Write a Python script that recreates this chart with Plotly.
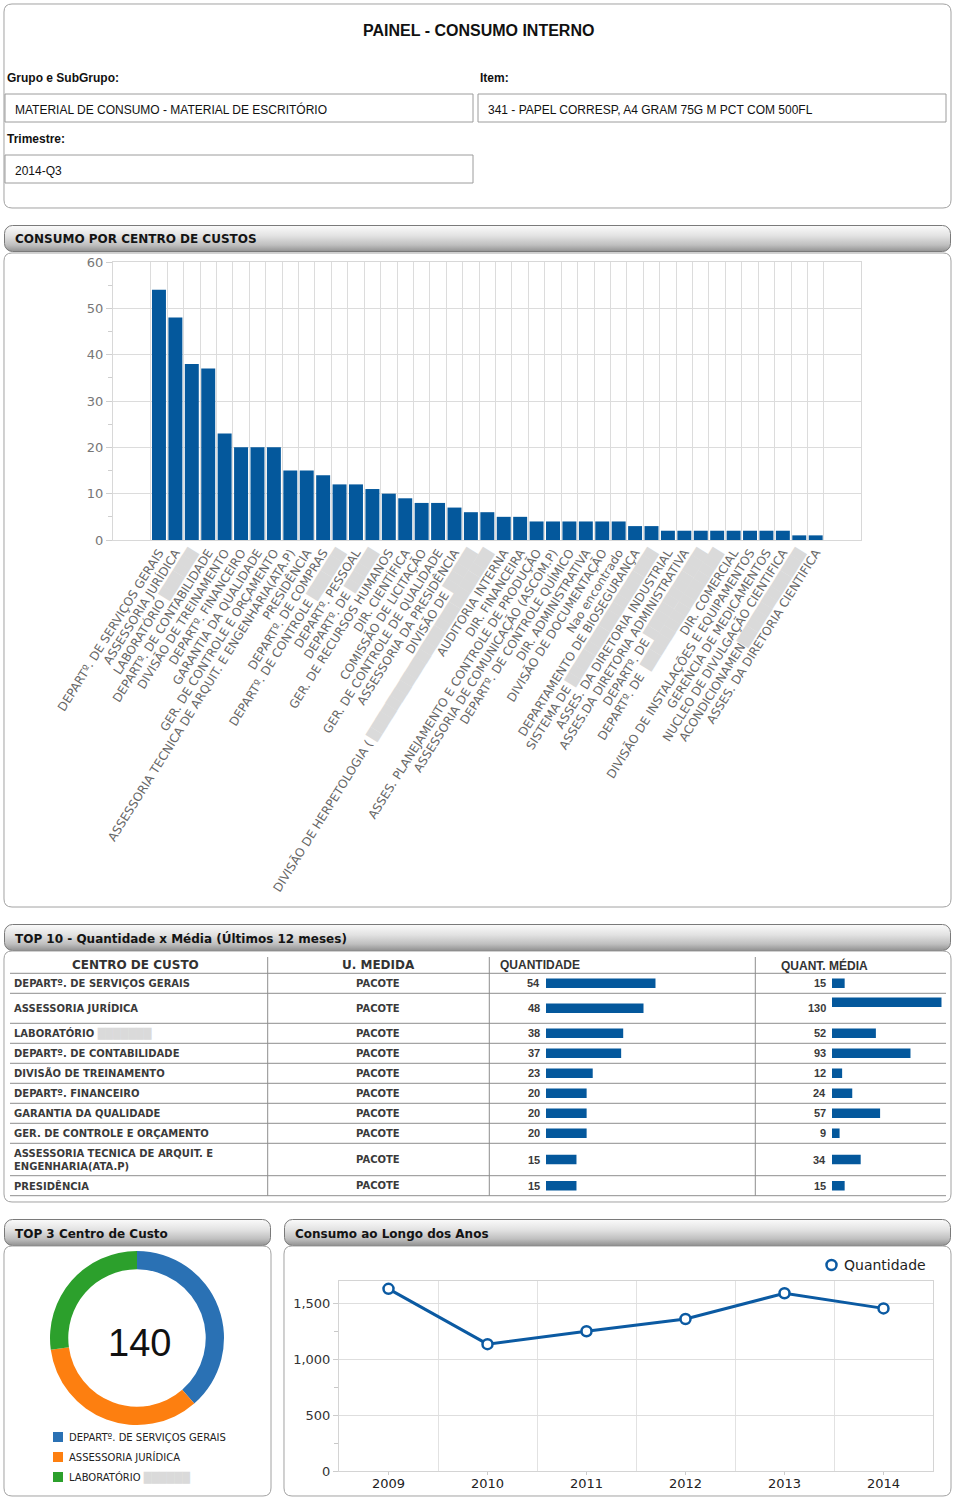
import base64
import plotly.graph_objects as go

# ---------------- DATA ----------------
def blur(n, color="#dadada"):
    return '<span style="color:%s">%s</span>' % (color, "█" * n)

centros = [
    "DEPARTº. DE SERVIÇOS GERAIS",
    "ASSESSORIA JURÍDICA",
    "LABORATÓRIO " + blur(6),
    "DEPARTº. DE CONTABILIDADE",
    "DIVISÃO DE TREINAMENTO",
    "DEPARTº. FINANCEIRO",
    "GARANTIA DA QUALIDADE",
    "GER. DE CONTROLE E ORÇAMENTO",
    "ASSESSORIA TECNICA DE ARQUIT. E ENGENHARIA(ATA.P)",
    "PRESIDÊNCIA",
    "DEPARTº. DE COMPRAS",
    "DEPARTº. DE CONTROLE " + blur(6),
    "DEPARTº. PESSOAL",
    "DEPARTº. DE " + blur(5),
    "GER. DE RECURSOS HUMANOS",
    "DIR. CIENTÍFICA",
    "COMISSÃO DE LICITAÇÃO",
    "GER. DE CONTROLE DE QUALIDADE",
    "ASSESSORIA DA PRESIDÊNCIA",
    "DIVISÃO DE " + blur(5),
    "DIVISÃO DE HERPETOLOGIA ( " + blur(24),
    "AUDITORIA INTERNA",
    "DIR. FINANCEIRA",
    "ASSES. PLANEJAMENTO E CONTROLE DE PRODUÇÃO",
    "ASSESSORIA DE COMUNICAÇÃO (ASCOM.P)",
    "DEPARTº. DE CONTROLE QUÍMICO",
    "DIR. ADMINISTRATIVA",
    "DIVISÃO DE DOCUMENTAÇÃO",
    "Nao encontrado",
    "DEPARTAMENTO DE BIOSEGURANÇA",
    "SISTEMA DE " + blur(17),
    "ASSES. DA DIRETORIA INDUSTRIAL",
    "ASSES.DA DIRETORIA ADMINISTRATIVA",
    "DEPARTº. DE " + blur(11),
    "DEPARTº. DE  " + blur(15),
    "DIR. COMERCIAL",
    "DIVISÃO DE INSTALAÇÕES E EQUIPAMENTOS",
    "GERENCIA DE MEDICAMENTOS",
    "NUCLEO DE DIVULGAÇÃO CIENTIFICA",
    "ACONDICIONAMEN" + blur(12),
    "ASSES. DA DIRETORIA CIENTIFICA",
]
consumo = [54, 48, 38, 37, 23, 20, 20, 20, 15, 15,
           14, 12, 12, 11, 10, 9, 8, 8, 7, 6,
           6, 5, 5, 4, 4, 4, 4, 4, 4, 3,
           3, 2, 2, 2, 2, 2, 2, 2, 2, 1, 1]

top10_nomes = [
    "DEPARTº. DE SERVIÇOS GERAIS",
    "ASSESSORIA JURÍDICA",
    "LABORATÓRIO " + blur(7),
    "DEPARTº. DE CONTABILIDADE",
    "DIVISÃO DE TREINAMENTO",
    "DEPARTº. FINANCEIRO",
    "GARANTIA DA QUALIDADE",
    "GER. DE CONTROLE E ORÇAMENTO",
    "ASSESSORIA TECNICA DE ARQUIT. E<br>ENGENHARIA(ATA.P)",
    "PRESIDÊNCIA",
]
top10_unidade = ["PACOTE"] * 10
top10_quant = [54, 48, 38, 37, 23, 20, 20, 20, 15, 15]
top10_media = [15, 130, 52, 93, 12, 24, 57, 9, 34, 15]

top3_nomes = ["DEPARTº. DE SERVIÇOS GERAIS", "ASSESSORIA JURÍDICA", "LABORATÓRIO " + blur(6)]
top3_valores = [54, 48, 38]
top3_cores = ["#2a71b4", "#fd7f10", "#2ca02c"]

anos = [2009, 2010, 2011, 2012, 2013, 2014]
consumo_anual = [1630, 1135, 1250, 1360, 1590, 1455]

# ---------------- LAYOUT HELPERS ----------------
W, H = 956, 1502
BLUE = "#04589c"
PAD = 2  # annotation inner padding compensation


def X(px):
    return px / W


def Y(py):
    return 1 - py / H


def rrect_path(x0, y0, x1, y1, r):
    pts = [
        ("M", [(x0 + r, y0)]), ("L", [(x1 - r, y0)]), ("Q", [(x1, y0), (x1, y0 + r)]),
        ("L", [(x1, y1 - r)]), ("Q", [(x1, y1), (x1 - r, y1)]), ("L", [(x0 + r, y1)]),
        ("Q", [(x0, y1), (x0, y1 - r)]), ("L", [(x0, y0 + r)]), ("Q", [(x0, y0), (x0 + r, y0)]),
    ]
    s = ""
    for cmd, ps in pts:
        s += cmd + " " + " ".join("%.6f,%.6f" % (X(a), Y(b)) for a, b in ps) + " "
    return s + "Z"


shapes = []
annotations = []
images = []


def panel(x0, y0, x1, y1, r=8, line="#a2a2a2"):
    shapes.append(dict(type="path", path=rrect_path(x0, y0, x1, y1, r), xref="paper", yref="paper",
                       fillcolor="white", line=dict(color=line, width=1), layer="below"))


def text_at(px, py, text, size=12, family="Liberation Sans", bold=False, color="#222",
            xanchor="left", align="left"):
    if xanchor == "left":
        px -= PAD
    elif xanchor == "right":
        px += PAD
    annotations.append(dict(x=X(px), y=Y(py), xref="paper", yref="paper", text=text, showarrow=False,
                            xanchor=xanchor, yanchor="middle", align=align,
                            font=dict(size=size, family=family, color=color,
                                      weight="bold" if bold else "normal")))


def header(x0, y0, x1, y1, text):
    w, h = x1 - x0, y1 - y0
    svg = ('<svg xmlns="http://www.w3.org/2000/svg" width="%d" height="%d" viewBox="0 0 %d %d" '
           'preserveAspectRatio="none"><defs><linearGradient id="g" x1="0" y1="0" x2="0" y2="1">'
           '<stop offset="0" stop-color="#fbfbfb"/><stop offset="0.4" stop-color="#e2e2e2"/>'
           '<stop offset="0.75" stop-color="#bfbfbf"/><stop offset="1" stop-color="#929292"/>'
           '</linearGradient></defs><rect x="0.5" y="0.5" width="%.1f" height="%.1f" rx="8" ry="8" '
           'fill="url(#g)" stroke="#7a7a7a" stroke-width="1"/></svg>') % (w, h, w, h, w - 1, h - 1)
    src = "data:image/svg+xml;base64," + base64.b64encode(svg.encode()).decode()
    images.append(dict(source=src, xref="paper", yref="paper", x=X(x0), y=Y(y0), sizex=w / W, sizey=h / H,
                       xanchor="left", yanchor="top", sizing="stretch", layer="below"))
    text_at(x0 + 11, (y0 + y1) / 2 + 1, text, size=12, family="DejaVu Sans", bold=True, color="#141414")


def hline(x0, x1, py, color="#8e8e8e"):
    shapes.append(dict(type="line", xref="paper", yref="paper", x0=X(x0), x1=X(x1), y0=Y(py), y1=Y(py),
                       line=dict(color=color, width=1)))


def vline(px, y0, y1, color="#8e8e8e"):
    shapes.append(dict(type="line", xref="paper", yref="paper", x0=X(px), x1=X(px), y0=Y(y0), y1=Y(y1),
                       line=dict(color=color, width=1)))


def box(x0, y0, x1, y1):
    shapes.append(dict(type="rect", xref="paper", yref="paper", x0=X(x0), x1=X(x1), y0=Y(y1), y1=Y(y0),
                       fillcolor="white", line=dict(color="#9c9c9c", width=1)))


# ---------------- TOP PANEL ----------------
panel(4, 4, 951, 208)
text_at(478, 30, "PAINEL - CONSUMO INTERNO", size=16, bold=True, color="#111", xanchor="center")
text_at(7, 78, "Grupo e SubGrupo:", size=12, bold=True, color="#111")
text_at(480, 78, "Item:", size=12, bold=True, color="#111")
text_at(7, 139, "Trimestre:", size=12, bold=True, color="#111")
box(5, 94, 473, 122)
box(478, 94, 946, 122)
box(5, 155, 473, 183)
text_at(15, 110, "MATERIAL DE CONSUMO - MATERIAL DE ESCRITÓRIO", size=12, color="#111")
text_at(488, 110, "341 - PAPEL CORRESP, A4 GRAM 75G M PCT COM 500FL", size=12, color="#111")
text_at(15, 171, "2014-Q3", size=12, color="#111")

# ---------------- SECTION PANELS ----------------
panel(4, 253, 951, 907)
header(4, 225, 951, 252, "CONSUMO POR CENTRO DE CUSTOS")
panel(4, 951, 951, 1202)
header(4, 924, 951, 951, "TOP 10 - Quantidade x Média (Últimos 12 meses)")
panel(4, 1246, 271, 1496)
header(4, 1219, 271, 1246, "TOP 3 Centro de Custo")
panel(284, 1246, 951, 1496)
header(284, 1219, 951, 1246, "Consumo ao Longo dos Anos")

fig = go.Figure()

# ---------------- BAR CHART ----------------
fig.add_trace(go.Bar(x=centros, y=consumo, marker=dict(color=BLUE, line=dict(width=0)),
                     xaxis="x", yaxis="y", showlegend=False, hoverinfo="x+y"))

# ---------------- TOP 10 TABLE ----------------
row_heights = [20, 30, 20, 20, 20, 20, 20, 20, 32.4, 20]
table_top = 973.3
bounds = [table_top]
for hgt in row_heights:
    bounds.append(bounds[-1] + hgt)
centers = [(bounds[i] + bounds[i + 1]) / 2 for i in range(len(row_heights))]
media_shift = [0, -6, 0, 0, 0, 0, 0, 0, 0, 0]

col_lines = [267.7, 489.3, 755.3]
for b in bounds:
    hline(10, 946, b)
for c in col_lines:
    vline(c, 957, bounds[-1])

text_at(135, 965, "CENTRO DE CUSTO", size=12, family="DejaVu Sans", bold=True, color="#333", xanchor="center")
text_at(378, 965, "U. MEDIDA", size=12, family="DejaVu Sans", bold=True, color="#333", xanchor="center")
text_at(500, 965, "QUANTIDADE", size=12, bold=True, color="#333")
text_at(781, 965, "QUANT. MÉDIA", size=12, bold=True, color="#333")

for i in range(len(top10_nomes)):
    cy = centers[i]
    text_at(14, cy, top10_nomes[i], size=10, family="DejaVu Sans", bold=True, color="#3a3a3a")
    text_at(378, cy, top10_unidade[i], size=10, family="DejaVu Sans", bold=True, color="#3a3a3a",
            xanchor="center")
    text_at(540, cy, str(top10_quant[i]), size=11, bold=True, color="#3a3a3a", xanchor="right")
    text_at(826, cy, str(top10_media[i]), size=11, bold=True, color="#3a3a3a", xanchor="right")

fig.add_trace(go.Bar(x=top10_quant, y=centers, orientation="h", width=9.6,
                     marker=dict(color=BLUE, line=dict(width=0)), xaxis="x2", yaxis="y2",
                     showlegend=False, hoverinfo="x"))
fig.add_trace(go.Bar(x=top10_media, y=[c + s for c, s in zip(centers, media_shift)], orientation="h",
                     width=9.6, marker=dict(color=BLUE, line=dict(width=0)), xaxis="x3", yaxis="y2",
                     showlegend=False, hoverinfo="x"))

# ---------------- TOP 3 DONUT ----------------
fig.add_trace(go.Pie(values=top3_valores, labels=top3_nomes, hole=0.79, sort=False, direction="clockwise",
                     rotation=0, textinfo="none", marker=dict(colors=top3_cores, line=dict(width=0)),
                     domain=dict(x=[X(50), X(224)], y=[Y(1425), Y(1251)]), showlegend=False,
                     hoverinfo="label+value"))
text_at(139, 1343, str(sum(top3_valores)), size=38, color="#111", xanchor="center")
for i, (nome, cor) in enumerate(zip(top3_nomes, top3_cores)):
    cy = 1437 + 20 * i
    shapes.append(dict(type="rect", xref="paper", yref="paper", x0=X(53), x1=X(63), y0=Y(cy + 5),
                       y1=Y(cy - 5), fillcolor=cor, line=dict(width=0)))
    text_at(69, cy, nome, size=10, family="DejaVu Sans", color="#222")

# ---------------- LINE CHART ----------------
fig.add_trace(go.Scatter(x=anos, y=consumo_anual, mode="lines+markers", xaxis="x4", yaxis="y4",
                         line=dict(color="#0b5aa2", width=3),
                         marker=dict(symbol="circle", size=10, color="white",
                                     line=dict(color="#0b5aa2", width=2.5)),
                         showlegend=False, name="Quantidade"))
shapes.append(dict(type="circle", xref="paper", yref="paper", x0=X(826.5), x1=X(836.5), y0=Y(1270),
                   y1=Y(1260), fillcolor="white", line=dict(color="#0b5aa2", width=2.5)))
text_at(844, 1265, "Quantidade", size=14, family="DejaVu Sans", color="#222")

# ---------------- AXES ----------------
fig.update_layout(
    width=W, height=H, margin=dict(l=0, r=0, t=0, b=0, autoexpand=False),
    paper_bgcolor="white", plot_bgcolor="white", showlegend=False,
    bargap=0.15, shapes=shapes, annotations=annotations, images=images,
    xaxis=dict(domain=[X(113), X(861)], type="category", range=[-2.8, 42.76], tickson="boundaries",
               showgrid=True, gridcolor="#dcdcdc", gridwidth=1, tickangle=-58, ticks="",
               tickfont=dict(size=12, family="DejaVu Sans", color="#666"), automargin=False,
               showline=True, mirror=True, linecolor="#d8d8d8", anchor="y", fixedrange=True),
    yaxis=dict(domain=[Y(540), Y(262)], range=[0, 60], dtick=10, showgrid=True, gridcolor="#dcdcdc",
               ticks="outside", ticklen=6, tickcolor="#cfcfcf", automargin=False,
               minor=dict(dtick=5, ticks="outside", ticklen=4, tickcolor="#cfcfcf", showgrid=False),
               tickfont=dict(size=13, family="DejaVu Sans", color="#777"),
               showline=True, mirror=True, linecolor="#d8d8d8", zeroline=False, anchor="x",
               fixedrange=True),
    xaxis2=dict(domain=[X(546), X(655.7)], range=[0, max(top10_quant)], visible=False, anchor="y2",
                fixedrange=True, automargin=False),
    xaxis3=dict(domain=[X(832), X(941.7)], range=[0, max(top10_media)], visible=False, anchor="y2",
                fixedrange=True, automargin=False),
    yaxis2=dict(domain=[Y(bounds[-1]), Y(table_top)], range=[bounds[-1], table_top], visible=False,
                anchor="x2", fixedrange=True, automargin=False),
    xaxis4=dict(domain=[X(339), X(933)], range=[2008.5, 2014.5], tickvals=anos, tickformat="d",
                showgrid=False, ticks="outside", ticklen=3, tickcolor="#cccccc", automargin=False,
                ticklabelstandoff=-3,
                minor=dict(tick0=2008.5, dtick=1, showgrid=True, gridcolor="#e2e2e2", ticks=""),
                tickfont=dict(size=13, family="DejaVu Sans", color="#222"),
                showline=True, mirror=True, linecolor="#d4d4d4", anchor="y4", fixedrange=True),
    yaxis4=dict(domain=[Y(1471), Y(1281)], range=[0, 1700], tickvals=[0, 500, 1000, 1500],
                tickformat=",d", showgrid=True, gridcolor="#dedede", ticks="outside", ticklen=5,
                tickcolor="#cccccc", automargin=False,
                minor=dict(dtick=250, ticks="outside", ticklen=4, tickcolor="#c8c8c8", showgrid=False),
                tickfont=dict(size=13, family="DejaVu Sans", color="#333"),
                showline=True, mirror=True, linecolor="#d4d4d4", zeroline=False, anchor="x4",
                fixedrange=True),
)

fig.write_html("out.html", config=dict(displayModeBar=False),
               post_script="document.body.style.margin='0px';")
